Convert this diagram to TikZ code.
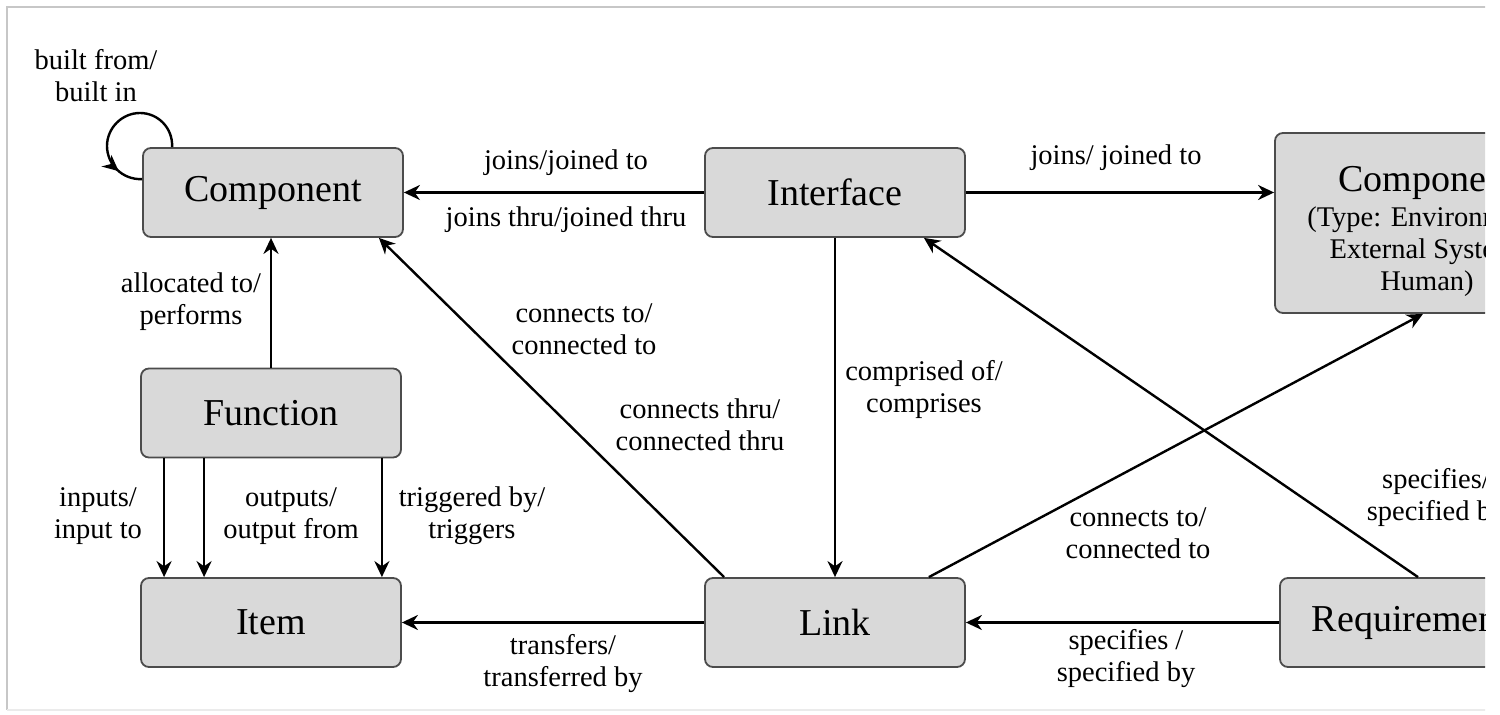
\documentclass[tikz,border=0pt]{standalone}
\usepackage{fontspec}
\setmainfont{Liberation Serif}
\usetikzlibrary{arrows.meta,decorations.markings}
\newcommand\lblfont{\fontsize{14.25}{16}\selectfont}
\tikzset{
  entity/.style={draw=black!70, line width=0.9pt, fill=black!15, rounded corners=4pt,
    minimum width=130pt, minimum height=44.5pt, inner sep=0pt, font=\fontsize{19}{22}\selectfont},
  rel/.style={line width=1.2pt, -{Stealth[length=8pt,width=7.5pt]}},
  lbl/.style={align=center, font=\lblfont, inner sep=0pt},
}
\begin{document}
\begin{tikzpicture}[x=0.5pt,y=-0.5pt]
  \useasboundingbox (0,0) rectangle (1500,715);
  \begin{scope}
  \clip (0,0) rectangle (1485,715);
  \draw[line width=1pt, black!22] (7,710) -- (7,7) -- (1600,7);
  \draw[line width=1pt, black!8] (7,710) -- (1600,710);

  \node[entity] (comp) at (273,192.5) {Component};
  \node[entity] (iface) at (835,192.5) {Interface};
  \node[entity, minimum width=152pt, minimum height=90pt, align=center] (ext) at (1427,223)
    {\rule{0pt}{21pt}Component\\[-4.5pt]\lblfont(Type: Environment,\\[-6pt]\lblfont External System,\\[-6pt]\lblfont Human)};
  \node[entity] (func) at (271,413) {Function};
  \node[entity] (item) at (271,622.5) {Item};
  \node[entity] (link) at (835,622.5) {Link};
  \node[entity] (req) at (1410,622.5) {Requirement};

  \node[lbl] (lbuilt) at (96,76) {built from/\\built in};
  \node[lbl] (ljoin) at (566,163) {joins/joined to};
  \node[lbl] (ljthru) at (566,220) {joins thru/joined thru};
  \node[lbl] (ljext) at (1116,158) {joins/ joined to};
  \node[lbl] (lalloc) at (191,302) {allocated to/\\performs};
  \node[lbl] (lconn) at (584,329) {connects to/\\connected to};
  \node[lbl] (lcthru) at (700,425) {connects thru/\\connected thru};
  \node[lbl] (lcompr) at (924,390) {comprised of/\\comprises};
  \node[lbl] (lcext) at (1138,533) {connects to/\\connected to};
  \node[lbl] (lspif) at (1436,498) {specifies/\\specified by};
  \node[lbl] (linp) at (98,516) {inputs/\\input to};
  \node[lbl] (loutp) at (291,516) {outputs/\\output from};
  \node[lbl] (ltrig) at (472,516) {triggered by/\\triggers};
  \node[lbl] (ltrans) at (563,664) {transfers/\\transferred by};
  \node[lbl] (lspec) at (1126,659) {specifies /\\specified by};

  \draw[rel] (iface) -- (comp);
  \draw[rel] (iface.east) -- (iface.east -| ext.west);
  \draw[rel] (func.north) -- (func.north |- comp.south);
  \draw[rel] ([xshift=12pt]func.south west) -- ([xshift=12pt]item.north west);
  \draw[rel] ([xshift=32pt]func.south west) -- ([xshift=32pt]item.north west);
  \draw[rel] ([xshift=-10pt]func.south east) -- ([xshift=-10pt]item.north east);
  \draw[rel] (iface) -- (link);
  \draw[rel] (link) -- (item);
  \draw[rel] (req) -- (link);
  \draw[rel] ([xshift=10pt]link.north west) -- ([xshift=-12.5pt]comp.south east);
  \draw[rel] ([xshift=-18.5pt]link.north east) -- ([xshift=-2pt]ext.south);
  \draw[rel] ([xshift=4pt]req.north) -- ([xshift=-21pt]iface.south east);
  \draw[line width=1.2pt, postaction={decorate},
    decoration={markings, mark=at position 0.84 with {\arrow{Stealth[length=8pt,width=7.5pt]}}}]
    ([xshift=15pt]comp.north west) .. controls (173,128) and (158,113) .. (140,113)
    .. controls (122,113) and (107,128) .. (107,146)
    .. controls (107,164) and (122,180) .. ([yshift=-16pt]comp.north west);
  \end{scope}
\end{tikzpicture}
\end{document}
